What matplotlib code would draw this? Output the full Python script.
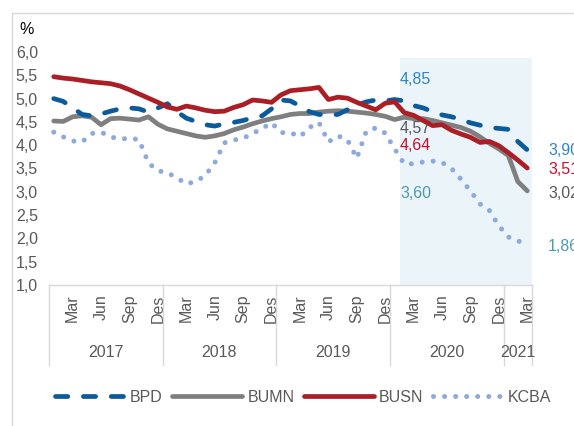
import matplotlib
matplotlib.use('Agg')
import matplotlib.pyplot as plt
from matplotlib.lines import Line2D
import numpy as np

plt.rcParams['font.family'] = ['Liberation Sans', 'DejaVu Sans']

years = [2017, 2018, 2019, 2020, 2021]
month_names = ['Jan', 'Feb', 'Mar', 'Apr', 'Mei', 'Jun', 'Jul', 'Agu', 'Sep', 'Okt', 'Nov', 'Des']
shown_months = ['Mar', 'Jun', 'Sep', 'Des']
# Jan 2017 .. Mar 2021
periods = [(y, m) for y in years for m in month_names][:51]

bpd = [5.00, 4.94, 4.80, 4.66, 4.63, 4.67, 4.73, 4.78, 4.80, 4.78, 4.71, 4.80,
       4.89, 4.72, 4.58, 4.51, 4.44, 4.41, 4.46, 4.49, 4.53, 4.59, 4.63, 4.78,
       4.97, 4.95, 4.84, 4.72, 4.66, 4.65, 4.66, 4.76, 4.86, 4.93, 4.97, 4.95,
       4.98, 4.95, 4.85, 4.80, 4.72, 4.65, 4.61, 4.55, 4.48, 4.43, 4.38, 4.36,
       4.34, 4.08, 3.90]
bumn = [4.52, 4.51, 4.61, 4.63, 4.60, 4.44, 4.57, 4.58, 4.56, 4.54, 4.61, 4.45,
        4.35, 4.30, 4.25, 4.20, 4.17, 4.20, 4.25, 4.33, 4.39, 4.46, 4.52, 4.57,
        4.61, 4.66, 4.68, 4.68, 4.71, 4.73, 4.74, 4.73, 4.71, 4.69, 4.66, 4.62,
        4.55, 4.60, 4.57, 4.57, 4.53, 4.48, 4.43, 4.38, 4.30, 4.18, 4.04, 3.92,
        3.78, 3.22, 3.02]
busn = [5.47, 5.44, 5.42, 5.39, 5.36, 5.34, 5.32, 5.27, 5.19, 5.10, 5.01, 4.92,
        4.82, 4.77, 4.84, 4.80, 4.75, 4.72, 4.73, 4.81, 4.87, 4.97, 4.95, 4.92,
        5.08, 5.17, 5.19, 5.21, 5.24, 4.98, 5.03, 5.01, 4.92, 4.84, 4.76, 4.90,
        4.93, 4.70, 4.64, 4.53, 4.42, 4.44, 4.32, 4.24, 4.17, 4.06, 4.08, 3.99,
        3.84, 3.68, 3.51]
kcba = [4.28, 4.18, 4.09, 4.07, 4.25, 4.28, 4.18, 4.13, 4.15, 4.12, 3.62, 3.45,
        3.41, 3.30, 3.17, 3.22, 3.35, 3.62, 4.05, 4.11, 4.15, 4.25, 4.36, 4.48,
        4.27, 4.27, 4.18, 4.38, 4.49, 4.07, 4.20, 4.12, 3.72, 4.30, 4.37, 4.26,
        3.92, 3.60, 3.60, 3.64, 3.66, 3.63, 3.50, 3.27, 3.02, 2.74, 2.60, 2.27,
        2.03, 1.95, 1.86]

series_names = ['BPD', 'BUMN', 'BUSN', 'KCBA']
series_data = [bpd, bumn, busn, kcba]
label_idx = 38  # Mar 2020

FS = 11.5
GREY_TXT = '#595959'

def fmt(v, d=2):
    return f"{v:.{d}f}".replace('.', ',')

fig = plt.figure(figsize=(5.74, 4.26), dpi=100)
ax = fig.add_axes([49 / 574, 1 - 285 / 426, 483 / 574, 233 / 426])

x = np.arange(len(periods))
ax.axvspan(36.6, 50.5, ymin=0, ymax=0.976, color='#EBF4F8', lw=0, zorder=0)

ax.plot(x, kcba, color='#8EA9DB', lw=3.6, dashes=(0.01, 2.2),
        dash_capstyle='round', label='KCBA', zorder=2)
ax.plot(x, bumn, color='#7F7F7F', lw=3.4, solid_capstyle='round',
        solid_joinstyle='round', label='BUMN', zorder=3)
ax.plot(x, busn, color='#AC1E25', lw=3.4, solid_capstyle='round',
        solid_joinstyle='round', label='BUSN', zorder=4)
ax.plot(x, bpd, color='#0B5A9C', lw=3.4, dashes=(2.6, 3.3),
        dash_capstyle='round', label='BPD', zorder=3.5)

ax.set_xlim(-0.5, len(periods) - 0.5)
ax.set_ylim(1, 6)
ax.set_yticks(np.arange(1.0, 6.01, 0.5))
ax.set_yticklabels([fmt(v, 1) for v in np.arange(1.0, 6.01, 0.5)])
ax.tick_params(axis='y', length=0, pad=8, labelsize=FS, labelcolor=GREY_TXT)

tick_pos = [i for i, (y, m) in enumerate(periods) if m in shown_months]
ax.set_xticks(tick_pos)
ax.set_xticklabels([periods[i][1] for i in tick_pos], rotation=90, va='top', ha='center')
ax.tick_params(axis='x', length=0, pad=7, labelsize=FS, labelcolor=GREY_TXT)

for s in ['top', 'right', 'left']:
    ax.spines[s].set_visible(False)
ax.spines['bottom'].set_color('#D9D9D9')
ax.spines['bottom'].set_linewidth(1.0)

# year separators and labels
trans = ax.get_xaxis_transform()
bounds = [-0.5]
for yr in years:
    idx = [i for i, (y, m) in enumerate(periods) if y == yr]
    bounds.append(idx[-1] + 0.5)
    ax.text(np.mean(idx), -0.288, str(yr), transform=trans, ha='center', va='center',
            fontsize=FS, color=GREY_TXT)
for b in bounds:
    ax.plot([b, b], [0, -0.343], transform=trans, color='#D9D9D9', lw=1.0, clip_on=False)

# value labels
lab_colors = {'BPD': '#2E86C8', 'BUMN': GREY_TXT, 'BUSN': '#C8102E', 'KCBA': '#4A9BAA'}
left_y = {'BPD': 5.42, 'BUMN': 4.35, 'BUSN': 4.00, 'KCBA': 2.97}
right_y = {'BPD': 3.88, 'BUMN': 2.97, 'BUSN': 3.47, 'KCBA': 1.82}
for name, data in zip(series_names, series_data):
    ax.text(36.56, left_y[name], fmt(data[label_idx]), color=lab_colors[name],
            fontsize=FS, ha='left', va='center', clip_on=False)
    ax.text(52.2, right_y[name], fmt(data[-1]), color=lab_colors[name],
            fontsize=FS, ha='left', va='center', clip_on=False)

fig.text(27 / 574, 1 - 29 / 426, '%', fontsize=FS, ha='center', va='center', color='black')

# legend
handles, labels = ax.get_legend_handles_labels()
order = [labels.index(n) for n in series_names]
fig.legend([handles[i] for i in order], [labels[i] for i in order], loc='center',
           bbox_to_anchor=(0.528, 1 - 397 / 426), ncol=4, frameon=False,
           handlelength=4.4, handletextpad=0.3, columnspacing=0.6,
           fontsize=FS, labelcolor=GREY_TXT)

# chart border
fig.add_artist(Line2D([11.5 / 574, 11.5 / 574], [0, 1 - 13 / 426], color='#D9D9D9', lw=1.0))
fig.add_artist(Line2D([11.5 / 574, 1], [1 - 13 / 426, 1 - 13 / 426], color='#D9D9D9', lw=1.0))

fig.savefig('out.png', dpi=100)
